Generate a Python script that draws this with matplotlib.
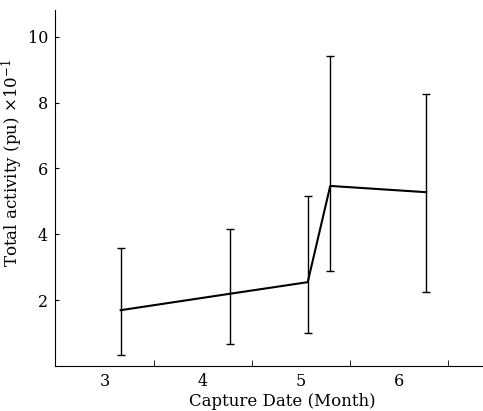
import matplotlib.pyplot as plt

# datos
month = [3.16, 4.28, 5.07, 5.30, 6.28]
activity = [1.70, 2.20, 2.55, 5.47, 5.28]
err_low = [0.33, 0.67, 1.00, 2.88, 2.24]
err_high = [3.60, 4.15, 5.15, 9.40, 8.25]
yticks = [2, 4, 6, 8, 10]
xticks = [3, 4, 5, 6]

plt.rcParams['font.family'] = 'DejaVu Serif'
plt.rcParams['mathtext.fontset'] = 'dejavuserif'

fig = plt.figure(figsize=(4.83, 4.11), dpi=100)
ax = fig.add_axes([0.114, 0.109, 0.886, 0.866])

yerr = [[a - l for a, l in zip(activity, err_low)],
        [h - a for a, h in zip(activity, err_high)]]
ax.errorbar(month, activity, yerr=yerr, color='black', lw=1.5,
            elinewidth=1.0, capsize=3, capthick=1.0)

ax.set_xlim(2.49, 6.86)
ax.set_ylim(0, 10.8)
ax.set_xticks(xticks)
ax.set_xticks([3.5, 4.5, 5.5, 6.5], minor=True)
ax.set_yticks(yticks)
ax.tick_params(axis='x', which='major', length=0, labelsize=11.5, pad=5)
ax.tick_params(axis='x', which='minor', direction='in', length=4)
ax.tick_params(axis='y', direction='in', length=3, labelsize=11.5, pad=5)
ax.spines['top'].set_visible(False)
ax.spines['right'].set_visible(False)

ax.set_xlabel('Capture Date (Month)', fontsize=12)
ax.xaxis.set_label_coords(0.53, -0.074)
ax.set_ylabel(r'Total activity (pu) $\times$10$^{-1}$', fontsize=12)
ax.yaxis.set_label_coords(-0.07, 0.57)

fig.savefig('out.png', dpi=100)
